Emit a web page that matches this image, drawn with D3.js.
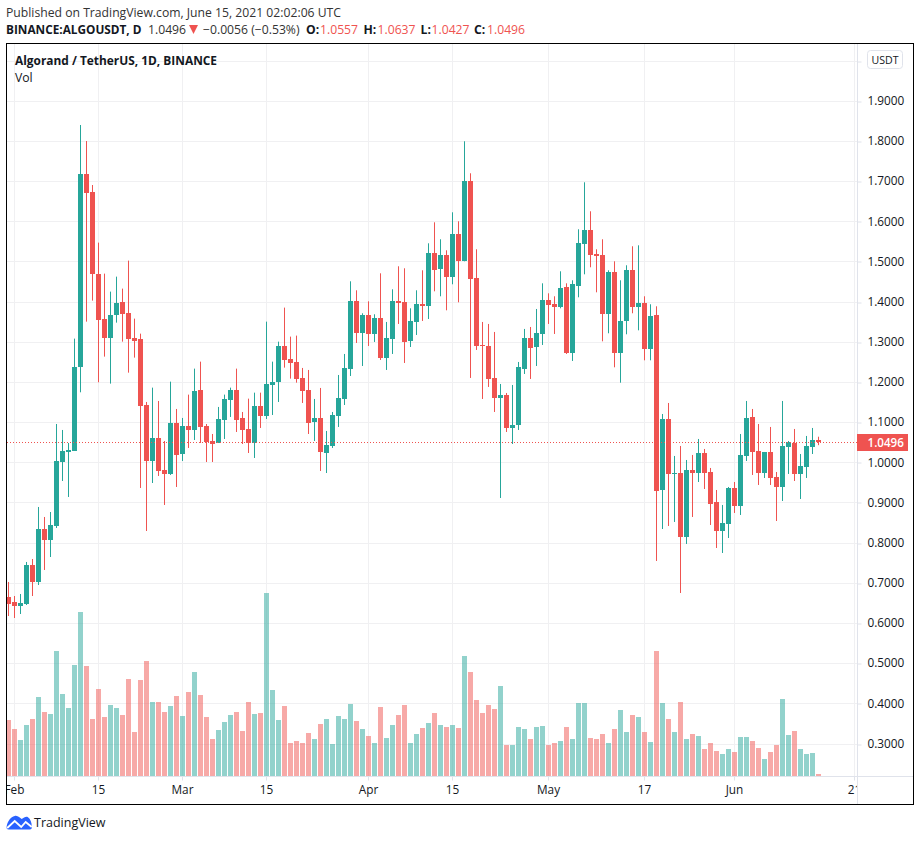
<!DOCTYPE html>
<html>
<head>
<meta charset="utf-8">
<script src="https://cdn.jsdelivr.net/npm/d3@7"></script>
<style>
  html, body { margin: 0; padding: 0; background: #fff; }
  svg { display: block; font-family: "Open Sans", sans-serif; }
</style>
</head>
<body>
<svg id="chart" width="920" height="841"></svg>
<script>
// daily candles, one value per day starting 31 Jan 2021
const firstDay = new Date(Date.UTC(2021, 0, 31));

const opens = [
  0.6647, 0.6523, 0.6423, 0.6473, 0.7444, 0.7021, 0.8340, 0.8066, 0.8415, 1.0008,
  1.0257, 1.0282, 1.2365, 1.7177, 1.6729, 1.4697, 1.3577, 1.3104, 1.3676, 1.4000,
  1.3726, 1.3104, 1.3079, 1.1427, 1.0033, 1.0606, 0.9809, 0.9710, 1.0979, 1.0207,
  1.0905, 1.0805, 1.1809, 1.0905, 1.0531, 1.0481, 1.1054, 1.1552, 1.1809, 1.1104,
  1.0830, 1.0481, 1.1402, 1.1154, 1.1934, 1.2008, 1.2905, 1.2581, 1.2506, 1.2100,
  1.1801, 1.1004, 1.1104, 1.0232, 1.0407, 1.1154, 1.1577, 1.2324, 1.4008, 1.3220,
  1.3660, 1.3195, 1.3593, 1.2598, 1.3071, 1.4008, 1.3983, 1.3021, 1.3494, 1.3934,
  1.3884, 1.5203, 1.4805, 1.5154, 1.4606, 1.5676, 1.5004, 1.6996, 1.4581, 1.2921,
  1.2896, 1.2100, 1.1602, 1.1676, 1.0855, 1.0929, 1.2324, 1.3095, 1.2871, 1.3195,
  1.4033, 1.3934, 1.3859, 1.4357, 1.2722, 1.4382, 1.5427, 1.5776, 1.5178, 1.5154,
  1.3685, 1.4730, 1.2714, 1.3510, 1.4780, 1.3859, 1.3959, 1.2813, 1.3660, 0.9311,
  1.1079, 0.9710, 0.9734, 0.8141, 0.9809, 0.9734, 1.0232, 0.9759, 0.9012, 0.8290,
  0.8465, 0.9361, 0.8913, 1.0158, 1.1129, 1.0282, 0.9734, 1.0257, 0.9635, 0.9386,
  1.0382, 1.0481, 0.9710, 0.9884, 1.0382, 1.0557
];
const highs = [
  0.7021, 0.6672, 0.6722, 0.7519, 0.7593, 0.8888, 0.8639, 0.8763, 1.0954, 1.0805,
  1.0481, 1.3079, 1.8397, 1.7998, 1.6903, 1.5469, 1.4697, 1.4249, 1.4622, 1.4324,
  1.5021, 1.3577, 1.3203, 1.1502, 1.1859, 1.1527, 1.0531, 1.2008, 1.1328, 1.1104,
  1.1685, 1.2332, 1.2506, 1.0954, 1.0705, 1.1378, 1.1685, 1.1859, 1.2332, 1.1253,
  1.1585, 1.1734, 1.1734, 1.3502, 1.2506, 1.3004, 1.3851, 1.3129, 1.3154, 1.2349,
  1.2299, 1.1577, 1.1851, 1.0780, 1.1253, 1.2174, 1.2697, 1.4506, 1.4282, 1.3710,
  1.4008, 1.3685, 1.4705, 1.3494, 1.4307, 1.4880, 1.4830, 1.3834, 1.4282, 1.4780,
  1.5452, 1.5975, 1.5552, 1.5278, 1.6224, 1.6000, 1.7992, 1.7195, 1.5303, 1.3494,
  1.3444, 1.3245, 1.1950, 1.1726, 1.1925, 1.2498, 1.3320, 1.3369, 1.3817, 1.4456,
  1.4207, 1.4133, 1.4755, 1.4456, 1.4531, 1.5801, 1.6971, 1.6249, 1.5303, 1.5552,
  1.4780, 1.5004, 1.4531, 1.4905, 1.5378, 1.5402, 1.4133, 1.3934, 1.3884, 1.1203,
  1.1477, 1.0158, 1.0407, 1.0058, 1.0183, 1.0581, 1.0332, 0.9859, 0.9311, 0.8938,
  0.9386, 0.9510, 1.0705, 1.1527, 1.1328, 1.0954, 1.0257, 1.0880, 0.9759, 1.1527,
  1.0531, 1.0830, 1.0207, 1.0656, 1.0855, 1.0637
];
const lows = [
  0.6174, 0.6124, 0.6224, 0.6448, 0.6672, 0.6946, 0.7320, 0.7643, 0.8365, 0.9535,
  0.9137, 1.0282, 1.1743, 1.3502, 1.4025, 1.1992, 1.2631, 1.1959, 1.3477, 1.3004,
  1.2232, 1.2606, 0.9361, 0.8290, 0.9485, 0.9660, 0.8938, 0.9685, 0.9386, 1.0033,
  1.0357, 1.0556, 1.0481, 1.0008, 1.0008, 1.0481, 1.0581, 1.1129, 1.0755, 1.0456,
  1.0232, 1.0108, 1.0855, 1.1079, 1.1178, 1.1502, 1.2357, 1.2083, 1.1983, 1.1477,
  1.0705, 1.0531, 0.9784, 0.9734, 1.0357, 1.0880, 1.1427, 1.2149, 1.2971, 1.2398,
  1.2896, 1.2996, 1.2548, 1.2299, 1.2697, 1.3444, 1.2473, 1.2871, 1.3170, 1.3519,
  1.3568, 1.4257, 1.4133, 1.3784, 1.4432, 1.3983, 1.5004, 1.2100, 1.2797, 1.1577,
  1.1876, 1.1253, 0.9112, 1.0755, 1.0456, 1.0805, 1.2199, 1.2075, 1.2398, 1.2921,
  1.3444, 1.3195, 1.3834, 1.2697, 1.2523, 1.4108, 1.4680, 1.4855, 1.4232, 1.3012,
  1.3212, 1.2365, 1.1982, 1.3187, 1.3710, 1.3286, 1.2539, 1.2539, 0.7544, 0.8340,
  0.8415, 0.8515, 0.6747, 0.7967, 0.8639, 0.9510, 0.9336, 0.8440, 0.7867, 0.7743,
  0.8116, 0.8739, 0.8689, 1.0033, 0.9685, 0.9436, 0.9610, 0.9436, 0.8539, 0.9037,
  0.9710, 0.9535, 0.9087, 0.9610, 1.0207, 1.0427
];
const closes = [
  0.6473, 0.6423, 0.6498, 0.7444, 0.7021, 0.8340, 0.8066, 0.8440, 1.0033, 1.0282,
  1.0307, 1.2382, 1.7177, 1.6711, 1.4697, 1.3552, 1.3104, 1.3676, 1.3975, 1.3701,
  1.3079, 1.3029, 1.1402, 1.0033, 1.0606, 0.9784, 0.9710, 1.0979, 1.0183, 1.0905,
  1.0805, 1.1784, 1.0880, 1.0506, 1.0456, 1.1079, 1.1585, 1.1809, 1.1054, 1.0805,
  1.0481, 1.1402, 1.1154, 1.1959, 1.2008, 1.2905, 1.2556, 1.2481, 1.2083, 1.1776,
  1.0979, 1.1104, 1.0257, 1.0432, 1.1178, 1.1602, 1.2349, 1.4008, 1.3220, 1.3660,
  1.3195, 1.3593, 1.2598, 1.3095, 1.4008, 1.3959, 1.2996, 1.3519, 1.3934, 1.3884,
  1.5203, 1.4780, 1.5154, 1.4606, 1.5676, 1.5004, 1.6996, 1.4556, 1.2896, 1.2896,
  1.2075, 1.1602, 1.1676, 1.0855, 1.0929, 1.2373, 1.3095, 1.2846, 1.3220, 1.4033,
  1.3909, 1.3859, 1.4332, 1.2722, 1.4432, 1.5452, 1.5776, 1.5154, 1.5129, 1.3685,
  1.4730, 1.2714, 1.3510, 1.4780, 1.3859, 1.3959, 1.2813, 1.3635, 0.9295, 1.1079,
  0.9710, 0.9734, 0.8141, 0.9809, 0.9734, 1.0232, 0.9734, 0.8963, 0.8290, 0.8490,
  0.9361, 0.8913, 1.0183, 1.1104, 1.0257, 0.9734, 1.0257, 0.9610, 0.9386, 1.0407,
  1.0506, 0.9710, 0.9909, 1.0407, 1.0556, 1.0496
];
// volume pane has no axis labels, so these are relative units
const volumes = [
  168, 141, 108, 153, 171, 237, 192, 186, 375, 246, 204, 333, 492, 330, 171, 261,
  177, 213, 204, 183, 291, 132, 288, 345, 222, 222, 192, 210, 240, 180, 252, 312,
  243, 177, 111, 138, 162, 183, 192, 135, 222, 186, 189, 549, 258, 168, 210, 99,
  105, 99, 129, 111, 156, 171, 96, 180, 171, 216, 165, 141, 120, 99, 207, 114,
  153, 183, 213, 99, 126, 144, 159, 189, 153, 147, 153, 144, 360, 312, 228, 189,
  213, 201, 270, 93, 93, 147, 141, 111, 147, 150, 93, 99, 105, 147, 111, 219,
  219, 114, 111, 126, 99, 141, 198, 132, 183, 177, 132, 102, 375, 219, 171, 132,
  222, 111, 126, 120, 81, 99, 75, 66, 81, 72, 117, 117, 105, 84, 51, 72,
  93, 231, 123, 135, 81, 66, 69, 6
];

const priceTicks = [0.3, 0.4, 0.5, 0.6, 0.7, 0.8, 0.9, 1.0, 1.1, 1.2, 1.3, 1.4, 1.5, 1.6, 1.7, 1.8, 1.9, 2.0];
const timeTicks = [
  [Date.UTC(2021, 1, 1), "Feb"], [Date.UTC(2021, 1, 15), "15"],
  [Date.UTC(2021, 2, 1), "Mar"], [Date.UTC(2021, 2, 15), "15"],
  [Date.UTC(2021, 3, 1), "Apr"], [Date.UTC(2021, 3, 15), "15"],
  [Date.UTC(2021, 4, 1), "May"], [Date.UTC(2021, 4, 17), "17"],
  [Date.UTC(2021, 5, 1), "Jun"], [Date.UTC(2021, 5, 21), "21"]
].map(d => ({ date: new Date(d[0]), label: d[1] }));
const lastClose = 1.0496;

const UP = "#26a69a", DOWN = "#ef5350", GRID = "#f0f0f2", LINE = "#e0e3eb", TEXT = "#131722";

const plot = { left: 7, right: 857, top: 44, bottom: 776, frameBottom: 804, frameRight: 913 };

const x = d3.scaleUtc()
  .domain([firstDay, new Date(Date.UTC(2021, 5, 21))])
  .range([8.5, 854.5]);
const y = d3.scaleLinear().domain([0.3, 2.0]).range([743.5, 60.6]);
const yVol = d3.scaleLinear().domain([0, 549]).range([plot.bottom, 593]);

const svg = d3.select("#chart");

const defs = svg.append("defs");
defs.append("clipPath").attr("id", "plot-clip").append("rect")
  .attr("x", plot.left).attr("y", plot.top)
  .attr("width", plot.right - plot.left).attr("height", plot.frameBottom - plot.top);

// header
const head = svg.append("g").style("font-size", "12.2px").attr("fill", TEXT);
head.append("text").attr("x", 6).attr("y", 17).attr("fill", "#333")
  .text("Published on TradingView.com, June 15, 2021 02:02:06 UTC");

const line2 = head.append("text").attr("y", 34);
line2.append("tspan").attr("x", 6).attr("font-weight", "bold").style("font-size", "11.8px").text("BINANCE:ALGOUSDT, D");
line2.append("tspan").attr("x", 148).attr("fill", "#333").text("1.0496");
line2.append("tspan").attr("x", 203).attr("fill", "#333").text("−0.0056 (−0.53%)");
[["O:", "1.0557", 306, 320], ["H:", "1.0637", 363.5, 377.5], ["L:", "1.0427", 420.5, 431.5], ["C:", "1.0496", 474, 487]].forEach(d => {
  line2.append("tspan").attr("x", d[2]).attr("font-weight", "bold").text(d[0]);
  line2.append("tspan").attr("x", d[3]).attr("fill", DOWN).text(d[1]);
});
// down arrow next to the change
svg.append("path").attr("d", "M189,25 L198,25 L193.5,34 Z").attr("fill", DOWN);

// grid
const grid = svg.append("g").attr("clip-path", "url(#plot-clip)");
grid.selectAll("line.h").data(priceTicks).join("line")
  .attr("class", "h")
  .attr("x1", plot.left).attr("x2", plot.right)
  .attr("y1", d => Math.round(y(d)) + 0.5).attr("y2", d => Math.round(y(d)) + 0.5)
  .attr("stroke", GRID);
grid.selectAll("line.v").data(timeTicks).join("line")
  .attr("class", "v")
  .attr("x1", d => Math.floor(x(d.date)) + 0.5).attr("x2", d => Math.floor(x(d.date)) + 0.5)
  .attr("y1", plot.top).attr("y2", plot.bottom)
  .attr("stroke", GRID);

const marks = svg.append("g").attr("clip-path", "url(#plot-clip)");
const days = closes.map((c, i) => i);
const dayX = i => x(d3.utcDay.offset(firstDay, i));
const isUp = i => closes[i] >= opens[i];

// volume
marks.append("g").selectAll("rect").data(days).join("rect")
  .attr("x", i => dayX(i) - 2.5)
  .attr("width", 5)
  .attr("y", i => yVol(volumes[i]))
  .attr("height", i => plot.bottom - yVol(volumes[i]))
  .attr("fill", i => isUp(i) ? UP : DOWN)
  .attr("fill-opacity", 0.5);

// wicks
marks.append("g").selectAll("rect").data(days).join("rect")
  .attr("x", i => dayX(i) - 0.5)
  .attr("width", 1)
  .attr("y", i => y(highs[i]))
  .attr("height", i => y(lows[i]) - y(highs[i]))
  .attr("fill", i => isUp(i) ? UP : DOWN);

// bodies
marks.append("g").selectAll("rect").data(days).join("rect")
  .attr("x", i => dayX(i) - 2.5)
  .attr("width", 5)
  .attr("y", i => Math.round(y(Math.max(opens[i], closes[i]))))
  .attr("height", i => Math.max(1, Math.round(y(Math.min(opens[i], closes[i]))) - Math.round(y(Math.max(opens[i], closes[i])))))
  .attr("fill", i => isUp(i) ? UP : DOWN);

// last price line
svg.append("line")
  .attr("x1", plot.left).attr("x2", plot.right)
  .attr("y1", Math.floor(y(lastClose)) + 0.5).attr("y2", Math.floor(y(lastClose)) + 0.5)
  .attr("stroke", DOWN).attr("stroke-dasharray", "1,2");

// price axis
const priceAxis = d3.axisRight(y).tickValues(priceTicks).tickSize(4).tickFormat(d3.format(".4f"));
const pa = svg.append("g").attr("transform", `translate(${plot.right + 0.5},0)`).call(priceAxis);
pa.select(".domain").remove();
pa.selectAll("line").attr("stroke", LINE)
  .attr("transform", d => `translate(0,${Math.round(y(d)) + 0.5 - y(d)})`);
pa.selectAll("text")
  .attr("x", 10).attr("fill", TEXT)
  .style("font-family", '"Open Sans", sans-serif').style("font-size", "11.8px");
pa.selectAll(".tick").filter(d => d === 2.0).select("text").remove();

// time axis, labels are cut at the pane edges
defs.append("clipPath").attr("id", "time-clip").append("rect")
  .attr("x", plot.left).attr("y", plot.bottom)
  .attr("width", plot.right - plot.left).attr("height", plot.frameBottom - plot.bottom);
const timeAxis = d3.axisBottom(x)
  .tickValues(timeTicks.map(d => d.date))
  .tickSize(4)
  .tickFormat((d, i) => timeTicks[i].label);
const ta = svg.append("g")
  .attr("clip-path", "url(#time-clip)")
  .append("g")
  .attr("transform", `translate(-0.5,${plot.bottom + 0.5})`)
  .call(timeAxis);
ta.select(".domain").remove();
ta.selectAll("line").attr("stroke", LINE);
ta.selectAll("text")
  .attr("y", 9).attr("fill", TEXT)
  .style("font-family", '"Open Sans", sans-serif').style("font-size", "11.8px");

// frame lines
svg.append("line").attr("x1", plot.left).attr("x2", plot.frameRight)
  .attr("y1", plot.bottom + 0.5).attr("y2", plot.bottom + 0.5).attr("stroke", LINE);
svg.append("line").attr("x1", plot.right + 0.5).attr("x2", plot.right + 0.5)
  .attr("y1", plot.top).attr("y2", plot.frameBottom).attr("stroke", LINE);
svg.append("rect")
  .attr("x", 6.5).attr("y", 43.5)
  .attr("width", plot.frameRight - 6).attr("height", plot.frameBottom - 43)
  .attr("fill", "none").attr("stroke", "#000");

// last price tag
const tagY = Math.floor(y(lastClose));
svg.append("rect")
  .attr("x", plot.right).attr("y", tagY - 8)
  .attr("width", 51).attr("height", 17)
  .attr("fill", DOWN);
svg.append("text")
  .attr("x", plot.right + 10.5).attr("y", tagY + 5)
  .attr("fill", "#fff").attr("font-weight", 600).style("font-size", "11.6px")
  .text(d3.format(".4f")(lastClose));

// currency button
svg.append("rect")
  .attr("x", 867.5).attr("y", 50.5).attr("width", 35).attr("height", 18).attr("rx", 3)
  .attr("fill", "#fff").attr("stroke", LINE);
svg.append("text")
  .attr("x", 885).attr("y", 64).attr("text-anchor", "middle")
  .attr("fill", TEXT).style("font-size", "10.6px").text("USDT");

// legend
svg.append("text").attr("x", 15).attr("y", 65)
  .attr("fill", TEXT).attr("font-weight", "bold").style("font-size", "11.9px")
  .text("Algorand / TetherUS, 1D, BINANCE");
svg.append("text").attr("x", 15).attr("y", 82)
  .attr("fill", TEXT).style("font-size", "12.2px").text("Vol");

// logo
const logo = svg.append("g").attr("transform", "translate(6.7,815)");
logo.append("path")
  .attr("d", "M0,11 C1,6 4,2 8,1 C11,0 13,3 15,4 C17,3 19,1 21,2 C24,4 25,8 25,11 C25.5,13 25,14.5 23,14.5 L2,14.5 C0,14.5 -0.5,13 0,11 Z")
  .attr("fill", "#2962ff");
logo.append("path")
  .attr("d", "M0.5,13 L8,6 L14.5,12 L19,7 L25,12")
  .attr("fill", "none").attr("stroke", "#fff").attr("stroke-width", 1.8);
svg.append("text").attr("x", 34).attr("y", 827)
  .attr("fill", TEXT).style("font-size", "12.5px").text("TradingView");
</script>
</body>
</html>
